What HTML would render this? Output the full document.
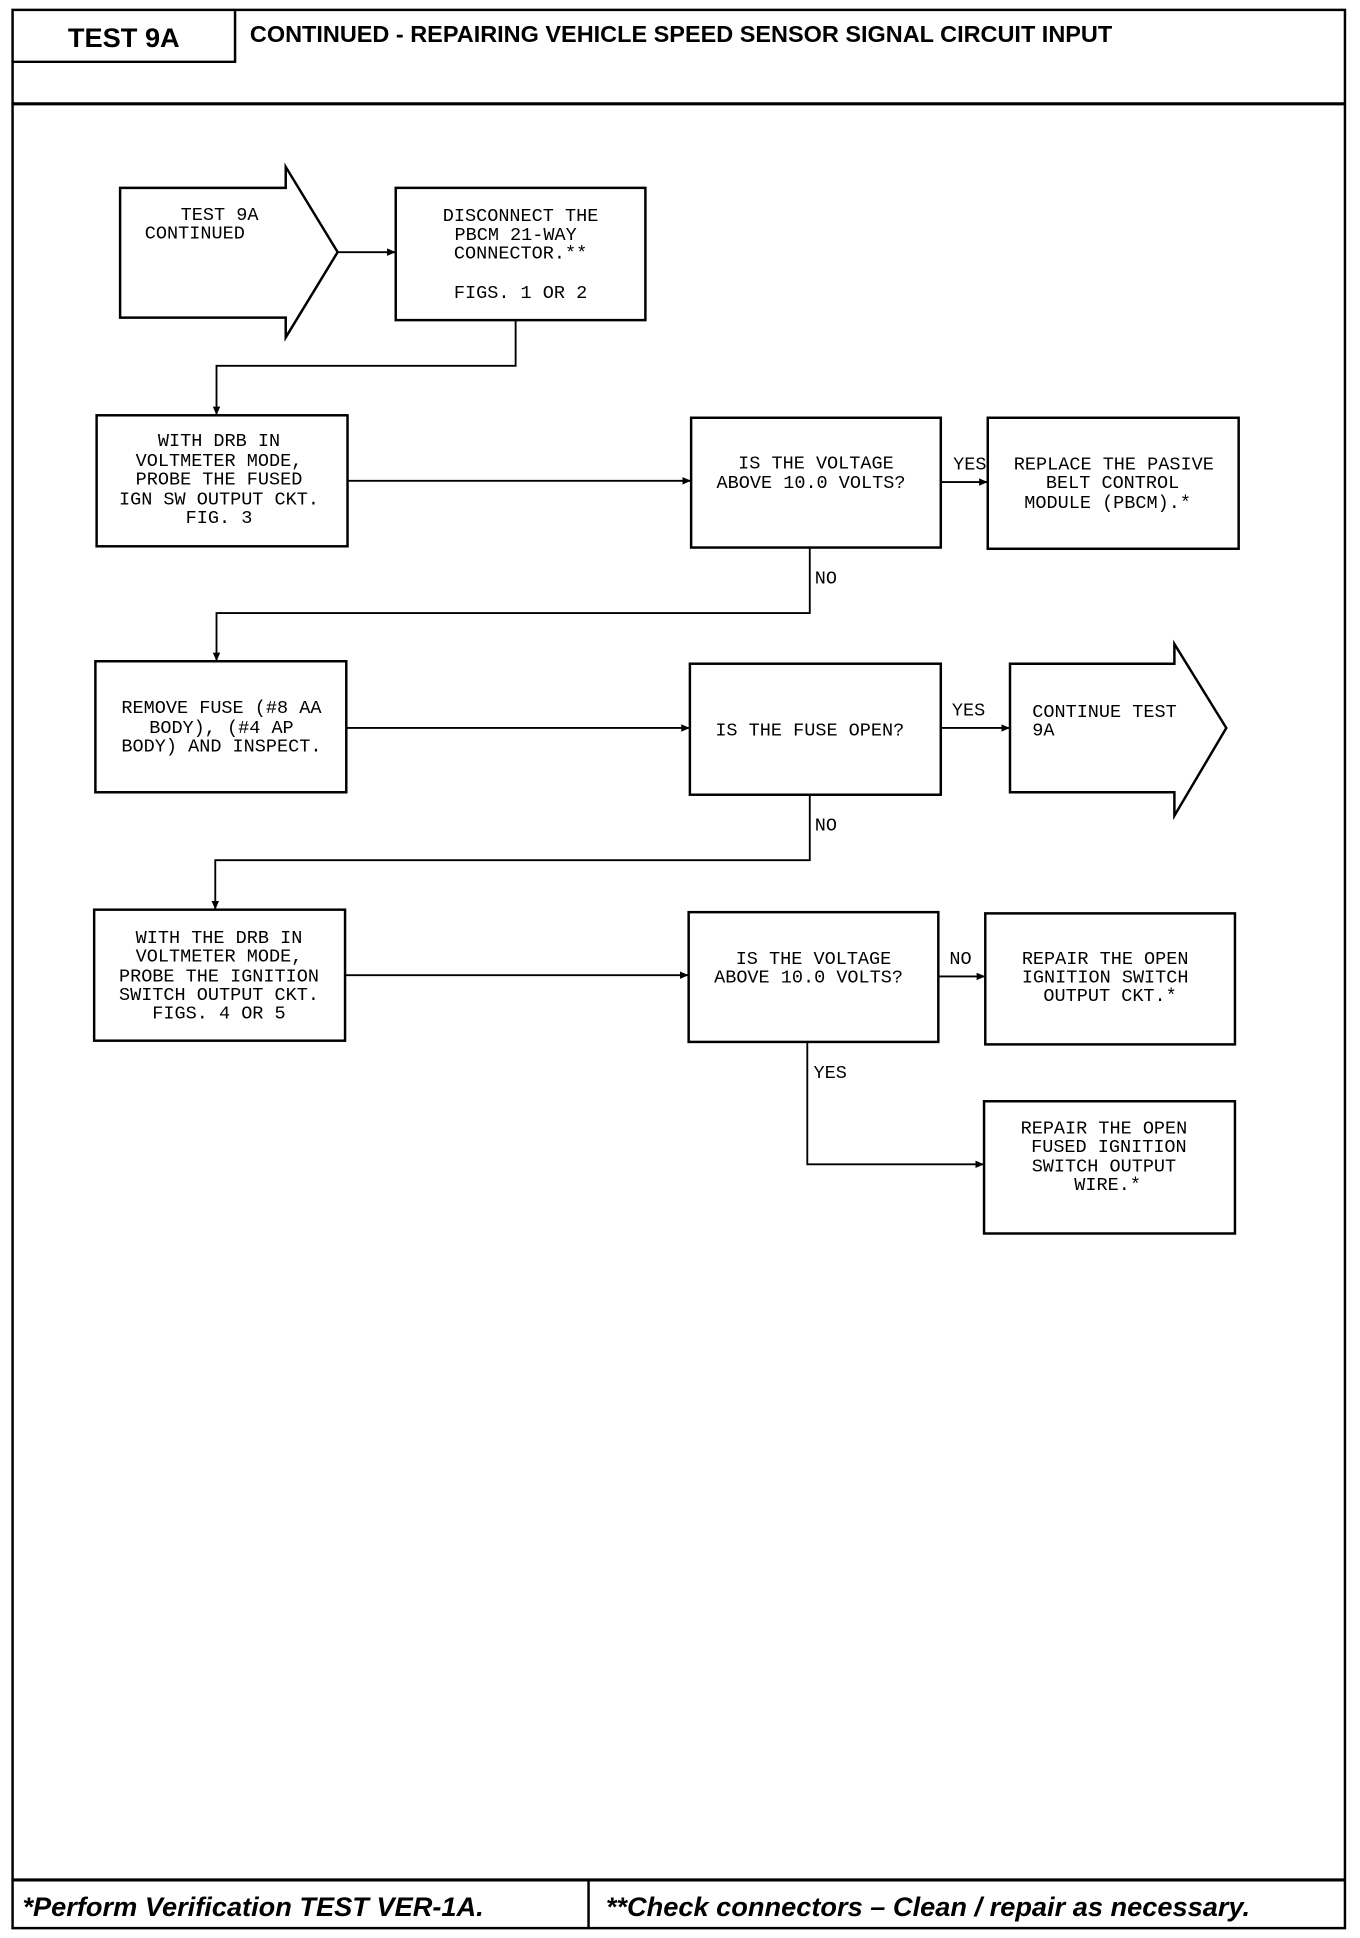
<!DOCTYPE html>
<html><head><meta charset="utf-8"><style>
html,body{margin:0;padding:0;background:#fff;}
svg{display:block;}
.t{font-family:"Liberation Mono",monospace;font-size:15px;fill:#000;}
.h{font-family:"Liberation Sans",sans-serif;font-weight:bold;fill:#000;}
</style></head><body>
<svg width="1360" height="1938" viewBox="0 0 1100 1568" xmlns="http://www.w3.org/2000/svg">
<defs><marker id="a" markerWidth="8" markerHeight="8" refX="7" refY="4" orient="auto" markerUnits="userSpaceOnUse"><path d="M0,1 L7,4 L0,7 Z" fill="#000"/></marker></defs>
<g fill="none" stroke="#000">
<rect x="10" y="8" width="1078" height="1552" stroke-width="2"/>
<polyline points="10,50 190,50 190,8" stroke-width="2"/>
<line x1="10" y1="84" x2="1088" y2="84" stroke-width="2.5"/>
<line x1="10" y1="1521" x2="1088" y2="1521" stroke-width="2.5"/>
<line x1="476" y1="1521" x2="476" y2="1560" stroke-width="2"/>
<g stroke-width="2">
<polygon points="97,152 231,152 231,135 273,204 231,273 231,257 97,257"/>
<rect x="320" y="152" width="202" height="107"/>
<rect x="78" y="336" width="203" height="106"/>
<rect x="559" y="338" width="202" height="105"/>
<rect x="799" y="338" width="203" height="106"/>
<rect x="77" y="535" width="203" height="106"/>
<rect x="558" y="537" width="203" height="106"/>
<polygon points="817,537 950,537 950,521 992,589 950,660 950,641 817,641"/>
<rect x="76" y="736" width="203" height="106"/>
<rect x="557" y="738" width="202" height="105"/>
<rect x="797" y="739" width="202" height="106"/>
<rect x="796" y="891" width="203" height="107"/>
</g>
<g stroke-width="1.5" marker-end="url(#a)">
<line x1="273" y1="204" x2="320" y2="204"/>
<polyline points="417,259 417,296 175,296 175,336"/>
<line x1="281" y1="389" x2="559" y2="389"/>
<line x1="761" y1="390" x2="799" y2="390"/>
<polyline points="655,443 655,496 175,496 175,535"/>
<line x1="280" y1="589" x2="558" y2="589"/>
<line x1="761" y1="589" x2="817" y2="589"/>
<polyline points="655,643 655,696 174,696 174,736"/>
<line x1="279" y1="789" x2="557" y2="789"/>
<line x1="759" y1="790" x2="797" y2="790"/>
<polyline points="653,843 653,942 796,942"/>
</g>
</g>
<text class="h" x="100" y="38" font-size="22" text-anchor="middle">TEST 9A</text>
<text class="h" x="202" y="34" font-size="19">CONTINUED -  REPAIRING VEHICLE SPEED SENSOR SIGNAL CIRCUIT INPUT</text>
<text class="h" x="18" y="1550" font-size="22" font-style="italic">*Perform Verification TEST VER-1A.</text>
<text class="h" x="490" y="1550" font-size="22" font-style="italic">**Check connectors – Clean / repair as necessary.</text>
<g class="t">
<text x="146" y="178">TEST 9A</text><text x="117" y="193">CONTINUED</text>
<g text-anchor="middle">
<text x="421" y="179">DISCONNECT THE</text><text x="417" y="194">PBCM 21-WAY</text><text x="421" y="209">CONNECTOR.**</text><text x="421" y="241">FIGS. 1 OR 2</text>
<text x="177" y="361">WITH DRB IN</text><text x="177" y="377">VOLTMETER MODE,</text><text x="177" y="392">PROBE THE FUSED</text><text x="177" y="408">IGN SW OUTPUT CKT.</text><text x="177" y="423">FIG. 3</text>
<text x="660" y="379">IS THE VOLTAGE</text><text x="656" y="395">ABOVE 10.0 VOLTS?</text>
<text x="901" y="380">REPLACE THE PASIVE</text><text x="900" y="395">BELT CONTROL</text><text x="896" y="411">MODULE (PBCM).*</text>
<text x="179" y="577">REMOVE FUSE (#8 AA</text><text x="179" y="593">BODY), (#4 AP</text><text x="179" y="608">BODY) AND INSPECT.</text>
<text x="655" y="595">IS THE FUSE OPEN?</text>
<text x="177" y="763">WITH THE DRB IN</text><text x="177" y="778">VOLTMETER MODE,</text><text x="177" y="794">PROBE THE IGNITION</text><text x="177" y="809">SWITCH OUTPUT CKT.</text><text x="177" y="824">FIGS. 4 OR 5</text>
<text x="658" y="780">IS THE VOLTAGE</text><text x="654" y="795">ABOVE 10.0 VOLTS?</text>
<text x="894" y="780">REPAIR THE OPEN</text><text x="894" y="795">IGNITION SWITCH</text><text x="898" y="810">OUTPUT CKT.*</text>
<text x="893" y="917">REPAIR THE OPEN</text><text x="897" y="932">FUSED IGNITION</text><text x="893" y="948">SWITCH OUTPUT</text><text x="896" y="963">WIRE.*</text>
</g>
<text x="835" y="580">CONTINUE TEST</text><text x="835" y="595">9A</text>
<text x="771" y="380">YES</text>
<text x="659" y="472">NO</text>
<text x="770" y="579">YES</text>
<text x="659" y="672">NO</text>
<text x="768" y="780">NO</text>
<text x="658" y="872">YES</text>
</g>
</svg>
</body></html>
